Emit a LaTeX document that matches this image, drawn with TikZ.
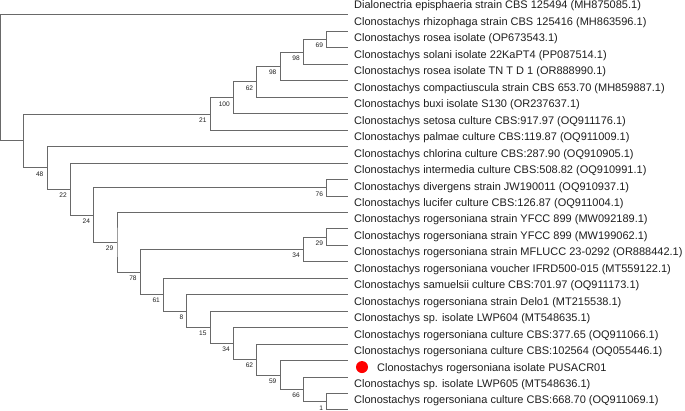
\documentclass[tikz,border=0pt]{standalone}
\usepackage{fontspec}
\setmainfont{Liberation Sans}
\usetikzlibrary{positioning, calc}
\definecolor{branchgray}{RGB}{105,105,105}
\definecolor{taxontext}{RGB}{30,30,30}

\begin{document}
\begin{tikzpicture}[
                x=1pt, y=-1pt,
                branch/.style={draw=branchgray, line width=1pt},
                taxon/.style={anchor=base west, inner sep=0pt, text=taxontext, font=\fontsize{11}{13}\selectfont},
                boot/.style={anchor=east, inner sep=0pt, text=taxontext, font=\fontsize{6.6}{8}\selectfont},
                isolate/.style={circle, fill=red, minimum size=12pt, inner sep=0pt},
            ]
                \useasboundingbox (0,0) rectangle (685,411);

                % Tip of every leaf branch
                \foreach \i in {1,...,25}
                    \coordinate (t\i) at (347.5, {15+16.458*(\i-1)});

                % Taxon names, a little above their branches
                \foreach \i / \txt in {1/{Dialonectria episphaeria strain CBS 125494 (MH875085.1)},
                                       2/{Clonostachys rhizophaga strain CBS 125416 (MH863596.1)},
                                       3/{Clonostachys rosea isolate (OP673543.1)},
                                       4/{Clonostachys solani isolate 22KaPT4 (PP087514.1)},
                                       5/{Clonostachys rosea isolate TN T D 1 (OR888990.1)},
                                       6/{Clonostachys compactiuscula strain CBS 653.70 (MH859887.1)},
                                       7/{Clonostachys buxi isolate S130 (OR237637.1)},
                                       8/{Clonostachys setosa culture CBS:917.97 (OQ911176.1)},
                                       9/{Clonostachys palmae culture CBS:119.87 (OQ911009.1)},
                                       10/{Clonostachys chlorina culture CBS:287.90 (OQ910905.1)},
                                       11/{Clonostachys intermedia culture CBS:508.82 (OQ910991.1)},
                                       12/{Clonostachys divergens strain JW190011 (OQ910937.1)},
                                       13/{Clonostachys lucifer culture CBS:126.87 (OQ911004.1)},
                                       14/{Clonostachys rogersoniana strain YFCC 899 (MW092189.1)},
                                       15/{Clonostachys rogersoniana strain YFCC 899 (MW199062.1)},
                                       16/{Clonostachys rogersoniana strain MFLUCC 23-0292 (OR888442.1)},
                                       17/{Clonostachys rogersoniana voucher IFRD500-015 (MT559122.1)},
                                       18/{Clonostachys samuelsii culture CBS:701.97 (OQ911173.1)},
                                       19/{Clonostachys rogersoniana strain Delo1 (MT215538.1)},
                                       20/{Clonostachys sp. isolate LWP604 (MT548635.1)},
                                       21/{Clonostachys rogersoniana culture CBS:377.65 (OQ911066.1)},
                                       22/{Clonostachys rogersoniana culture CBS:102564 (OQ055446.1)},
                                       24/{Clonostachys sp. isolate LWP605 (MT548636.1)},
                                       25/{Clonostachys rogersoniana culture CBS:668.70 (OQ911069.1)}}
                    \node[taxon] (s\i) at ([xshift=6.5pt, yshift=6pt]t\i) {\txt};

                % Our isolate, marked with a red dot
                \node[isolate] (dot) at ([xshift=14.5pt, yshift=10pt]t23) {};
                \node[taxon] (s23) at ([xshift=29.5pt, yshift=6pt]t23) {Clonostachys rogersoniana isolate PUSACR01};

                % Clades: name / depth / upper child / lower child / bootstrap
                % (children first, so every node sits half way between them)
                \foreach \nm / \lv / \ca / \cb / \bs in {n69/14/t2/t3/69, n98a/13/n69/t4/98,
                        n98b/12/n98a/t5/98, n62a/11/n98b/t6/62, n100/10/n62a/t7/100,
                        n21/9/n100/t8/21, n76/14/t11/t12/76, n29a/14/t14/t15/29,
                        n34a/13/n29a/t16/34, n1/14/t24/t25/1, n66/13/t23/n1/66,
                        n59/12/t22/n66/59, n62b/11/t21/n59/62, n34b/10/t20/n62b/34,
                        n15/9/t19/n34b/15, n8/8/t18/n15/8, n61/7/t17/n8/61,
                        n78/6/n34a/n61/78, n29b/5/t13/n78/29, n24/4/n76/n29b/24,
                        n22/3/t10/n24/22, n48/2/t9/n22/48, nA/1/n21/n48/{}, root/0/t1/nA/{}}
                {
                    \path let \p1 = (\ca), \p2 = (\cb) in
                        coordinate (\nm) at ({0.5pt+\lv*23.3pt}, {0.5*(\y1+\y2)});
                    \draw[branch] (\ca) -| (\nm) |- (\cb);
                    \node[boot] (b-\nm) at ([xshift=-3.5pt, yshift=-6pt]\nm) {\bs};
                }
            \end{tikzpicture}
\end{document}
